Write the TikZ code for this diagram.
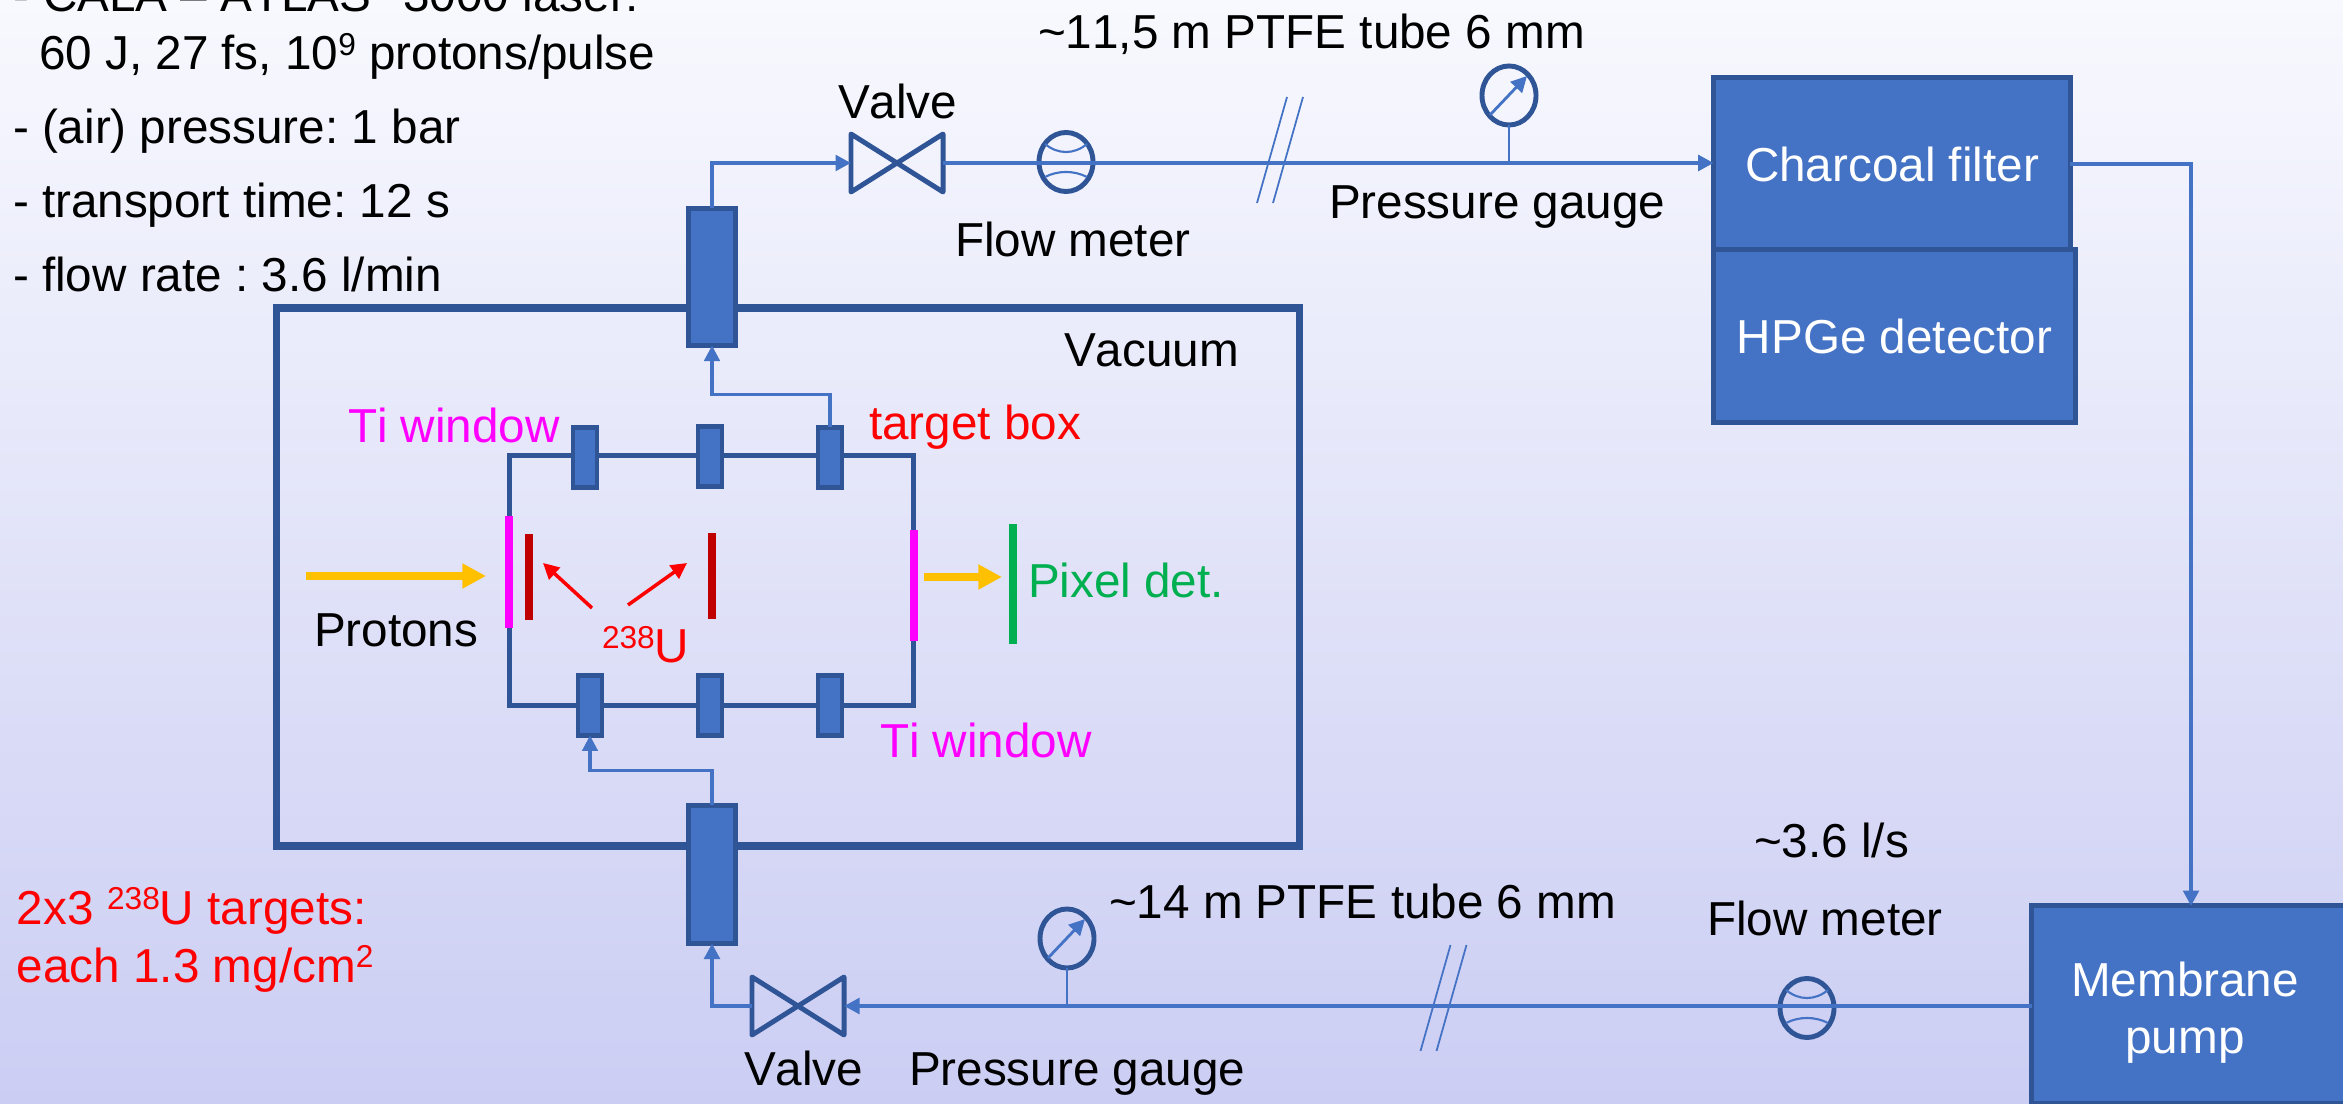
\documentclass[tikz,border=0pt]{standalone}
\usepackage{fontspec}
\setmainfont[Kerning=Off]{Liberation Sans}
\usepackage{tikz}
\usetikzlibrary{arrows.meta,shapes.geometric}
\definecolor{bgtop}{HTML}{F8F9FE}
\definecolor{bgbot}{HTML}{CBCDF3}
\definecolor{boxfill}{HTML}{4472C4}
\definecolor{boxline}{HTML}{2F5597}
\definecolor{beamcol}{HTML}{FFC000}
\definecolor{targetcol}{HTML}{C00000}
\definecolor{detcol}{HTML}{00B050}
\definecolor{wincol}{HTML}{FF00FF}
\definecolor{labred}{HTML}{FF0000}
\newcommand{\supnum}[1]{\raisebox{0.3em}{\fontsize{9}{9}\selectfont #1}}
\frenchspacing

\begin{document}
\begin{tikzpicture}[x=0.01cm,y=-0.01cm,
  txt/.style={anchor=base west,inner sep=0pt,outer sep=0pt,font=\fontsize{13.55}{16}\selectfont},
  ctxt/.style={txt,anchor=base},
  box/.style={draw=boxline,fill=boxfill,line width=1.4pt,inner sep=0pt,outer sep=0pt,text=white,font=\fontsize{13.55}{16}\selectfont},
  port/.style={draw=boxline,fill=boxfill,line width=1.5pt,inner sep=0pt,outer sep=0pt,minimum width=0.47cm},
  block/.style={draw=boxline,fill=boxfill,line width=1.4pt,inner sep=0pt,outer sep=0pt,minimum width=0.24cm,minimum height=0.6cm},
  bar/.style={inner sep=0pt,outer sep=0pt,minimum width=0.08cm},
  wall/.style={draw=boxline,inner sep=0pt,outer sep=0pt},
  meter/.style={ellipse,draw=boxline,line width=1.4pt,inner sep=0pt,outer sep=0pt,minimum width=0.54cm,minimum height=0.59cm},
  valve/.style={inner sep=0pt,outer sep=0pt,minimum width=0.92cm,minimum height=0.58cm},
  valveline/.style={draw=boxline,line width=1.4pt,line join=round},
  pipe/.style={draw=boxfill,line width=1.1pt,-{Triangle[length=4.4pt,width=4.4pt]}},
  pipeplain/.style={draw=boxfill,line width=1.1pt},
  fine/.style={draw=boxfill,line width=0.6pt},
  breakmark/.style={draw=boxfill,line width=0.5pt},
  beam/.style={draw=beamcol,line width=2.3pt,-{Triangle[length=6.7pt,width=6.7pt]}},
  pointer/.style={draw=labred,line width=1pt,-{Triangle[length=4.5pt,width=4.5pt]}}]
\useasboundingbox (0,0) rectangle (2343,1104);
\shade[top color=bgtop,bottom color=bgbot] (0,0) rectangle (2343,1104);

% Parameters, top left
\node[txt] (lineone) at (14,12) {- CALA -- ATLAS\hspace{0.67em}3000 laser:};
\node[txt] (linetwo) at (39,70) {60 J, 27 fs, 10\supnum{9} protons/pulse};
\node[txt] (linepres) at (13,144) {- (air) pressure: 1 bar};
\node[txt] (linetime) at (13,218) {- transport time: 12 s};
\node[txt] (lineflow) at (13,292) {- flow rate : 3.6 l/min};
\node[txt,text=labred] (targetsa) at (17,924) {2x3 \supnum{238}U targets:};
\node[txt,text=labred] (targetsb) at (17,982) {each 1.3 mg/cm\supnum{2}};

% Vacuum chamber and target box
\node[wall,line width=2.1pt,minimum width=10.22cm,minimum height=5.38cm] (vac) at (788,577) {};
\node[wall,line width=1.4pt,minimum width=4.03cm,minimum height=2.49cm] (tbox) at (711.5,580.5) {};
\node[port,minimum height=1.37cm] (feedtop) at (712,277) {};
\node[port,minimum height=1.38cm] (feedbot) at (712,874.5) {};
\foreach \n/\x/\y in {1/585/457.5,2/710/456.5,3/830/457.5} {
  \node[block] (blocktop\n) at (\x,\y) {};
}
\foreach \n/\x in {1/590,2/710,3/830} {
  \node[block] (blockbot\n) at (\x,705.5) {};
}
\node[bar,fill=wincol,minimum height=1.12cm] (winleft) at (508.5,572) {};
\node[bar,fill=wincol,minimum height=1.11cm] (winright) at (914,585.5) {};
\node[bar,fill=targetcol,minimum height=0.86cm] (targetone) at (529,577) {};
\node[bar,fill=targetcol,minimum height=0.86cm] (targettwo) at (712,576) {};
\node[bar,fill=detcol,minimum height=1.2cm] (pixel) at (1013,584) {};

% Boxes on the right
\node[box,minimum width=3.565cm,minimum height=1.72cm] (charcoal) at (1892,164) {Charcoal filter};
\node[box,minimum width=3.62cm,minimum height=1.72cm] (hpge) at (1894.5,336) {HPGe detector};
\node[box,minimum width=4cm,minimum height=1.97cm] (pump) at (2232,1004.5) {};
\node[ctxt,text=white] (pumpa) at (2185,996) {Membrane};
\node[ctxt,text=white] (pumpb) at (2185,1053) {pump};

% Valves
\node[valve] (valvetop) at (897,163) {};
\node[valve] (valvebot) at (798,1006) {};
\foreach \v in {valvetop,valvebot} {
  \draw[valveline] (\v.north west) -- (\v.south east) -- (\v.north east) -- (\v.south west) -- cycle;
}

% Flow meters
\node[meter] (flowtop) at (1066,162) {};
\node[meter] (flowbot) at (1807,1008) {};
\foreach \f in {flowtop,flowbot} {
  \draw[fine] ([shift={(-21,-18)}]\f.center) .. controls ([shift={(-8,-7.3)}]\f.center) and ([shift={(8,-7.3)}]\f.center) .. ([shift={(21,-18)}]\f.center);
  \draw[fine] ([shift={(-21,15)}]\f.center) .. controls ([shift={(-8,8.3)}]\f.center) and ([shift={(8,8.3)}]\f.center) .. ([shift={(21,15)}]\f.center);
}

% Pressure gauges
\node[meter] (gaugetop) at (1509,95.5) {};
\node[meter] (gaugebot) at (1067,938.5) {};
\foreach \g in {gaugetop,gaugebot} {
  \draw[pipeplain,-{Triangle[length=4.5pt,width=4.5pt]},line width=0.8pt] ([shift={(-19,19.5)}]\g.center) -- ([shift={(18,-19.5)}]\g.center);
}
\draw[fine,line width=0.8pt] (gaugetop.south) -- (gaugetop.south |- flowtop.center);
\draw[fine,line width=0.8pt] (gaugebot.south) -- (gaugebot.south |- flowbot.center);

% Tube breaks
\coordinate (breaktop) at (1280,150);
\coordinate (breakbot) at (1443.5,998);
\foreach \b in {breaktop,breakbot} {
  \foreach \d in {-8,8} {
    \draw[breakmark] ([shift={(15+\d,-53)}]\b) -- ([shift={(-15+\d,53)}]\b);
  }
}

% Gas circuit
\coordinate (pumpin) at (2191,906);
\draw[pipe,line width=0.9pt] (blocktop3.north) -- ++(0,-33) -| (feedtop.south);
\draw[pipe] (feedtop.north) |- (valvetop.west);
\draw[pipe] (valvetop.east) -- (valvetop.east -| charcoal.west);
\draw[pipe] (charcoal.east) -| (pumpin);
\draw[pipe] (valvebot.east -| pump.west) -- (valvebot.east);
\draw[pipe] (valvebot.west) -| (feedbot.south);
\draw[pipe,line width=0.9pt] (feedbot.north) -- ++(0,-35) -| (blockbot1.south);

% Beam and pointers
\coordinate (beamin) at (306,576);
\coordinate (beamend) at (486,576);
\coordinate (beamout) at (924,577);
\coordinate (beamdet) at (1002,577);
\draw[beam] (beamin) -- (beamend);
\draw[beam] (beamout) -- (beamdet);
\coordinate (uleft) at (592,608);
\coordinate (uleftend) at (543,563);
\coordinate (uright) at (628,605);
\coordinate (urightend) at (687,563);
\draw[pointer] (uleft) -- (uleftend);
\draw[pointer] (uright) -- (urightend);

% Labels
\node[txt] (labvalvetop) at (838,119) {Valve};
\node[txt] (labtubetop) at (1038,49) {\textasciitilde 11,5 m PTFE tube 6 mm};
\node[txt] (labflowtop) at (955,257) {Flow meter};
\node[txt] (labgaugetop) at (1329,219) {Pressure gauge};
\node[txt] (labvac) at (1064,367) {Vacuum};
\node[txt,text=wincol] (labtitop) at (348,443) {Ti window};
\node[txt,text=labred] (labtbox) at (869,440) {target box};
\node[txt] (labprotons) at (314,647) {Protons};
\node[txt,text=labred] (labu) at (602,663) {\supnum{238}U};
\node[txt,text=detcol] (labpixel) at (1028,598) {Pixel det.};
\node[txt,text=wincol] (labtibot) at (880,758) {Ti window};
\node[txt] (labtubebot) at (1109,918) {\textasciitilde 14 m PTFE tube 6 mm};
\node[txt] (labvalvebot) at (744,1085) {Valve};
\node[txt] (labgaugebot) at (909,1085) {Pressure gauge};
\node[txt] (labrate) at (1754,857) {\textasciitilde 3.6 l/s};
\node[txt] (labflowbot) at (1707,935) {Flow meter};
\end{tikzpicture}
\end{document}
